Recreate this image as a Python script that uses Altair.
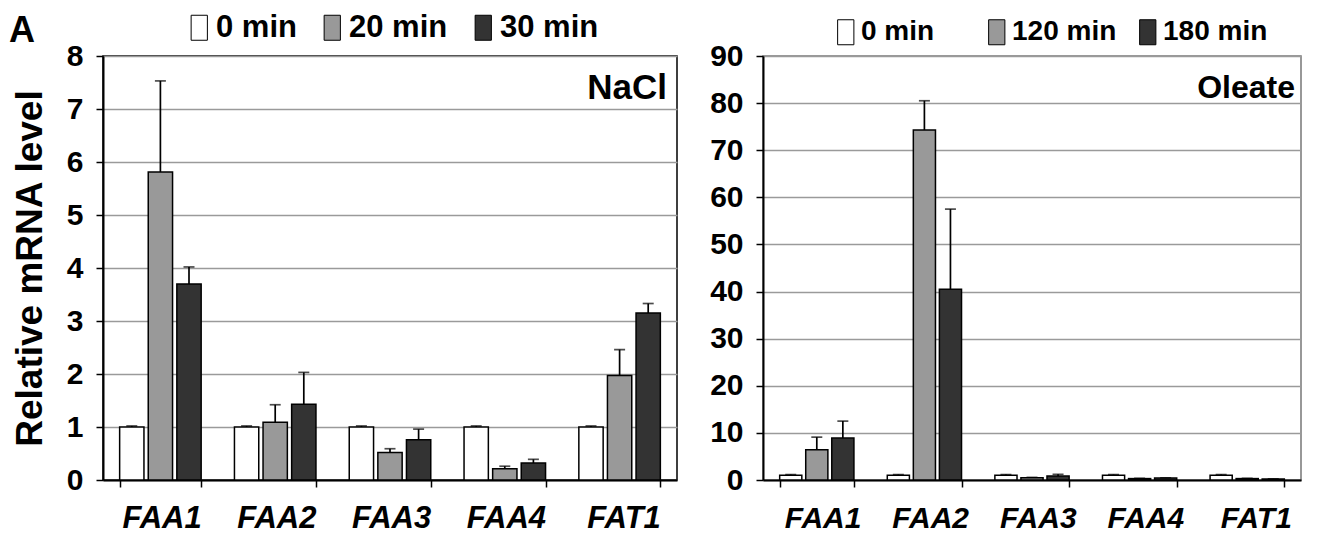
import altair as alt
import pandas as pd

genes = ["FAA1", "FAA2", "FAA3", "FAA4", "FAT1"]

# NaCl panel
nacl_times = ["0 min", "20 min", "30 min"]
nacl_0 = [1.0, 1.0, 1.0, 1.0, 1.0]
nacl_0_err = [0.02, 0.02, 0.02, 0.02, 0.02]
nacl_20 = [5.81, 1.09, 0.52, 0.21, 1.97]
nacl_20_err = [1.72, 0.33, 0.07, 0.05, 0.49]
nacl_30 = [3.70, 1.43, 0.76, 0.32, 3.15]
nacl_30_err = [0.32, 0.60, 0.20, 0.07, 0.18]

# Oleate panel
oleate_times = ["0 min", "120 min", "180 min"]
oleate_0 = [1.0, 1.0, 1.0, 1.0, 1.0]
oleate_0_err = [0.15, 0.15, 0.15, 0.15, 0.15]
oleate_120 = [6.4, 74.3, 0.5, 0.3, 0.3]
oleate_120_err = [2.7, 6.2, 0.05, 0.05, 0.05]
oleate_180 = [8.9, 40.5, 0.85, 0.4, 0.2]
oleate_180_err = [3.6, 17.0, 0.35, 0.05, 0.03]

FONT = "Liberation Sans, Arial, sans-serif"
FILLS = ["#ffffff", "#999999", "#333333"]
RECT = "M-0.35,-1L0.95,-1L0.95,1L-0.35,1Z"


def build(times, series, errs):
    rows = []
    for t, vals, es in zip(times, series, errs):
        for g, v, e in zip(genes, vals, es):
            rows.append({"gene": g, "time": t, "value": v, "top": v + e})
    return pd.DataFrame(rows)


def panel(df, times, ymax, ystep, label, width, pad_in, xlab_size, xlab_shift,
          leg, frame, show_title, label_size, label_right, extra=None):
    step = width / len(genes)
    bandwidth = step * (1 - pad_in)
    base = alt.Chart(df)
    xaxis = alt.Axis(
        title=None, labelAngle=0, labelFont=FONT, labelFontSize=xlab_size,
        labelFontStyle="italic", labelFontWeight="bold", labelColor="black",
        tickBand="extent", tickSize=7, tickColor="black", tickWidth=1.5,
        domainColor="black", domainWidth=2, labelPadding=31,
        labelOffset=bandwidth / 2 + xlab_shift,
    )
    x = alt.X("gene:N", sort=genes,
              scale=alt.Scale(paddingInner=pad_in, paddingOuter=pad_in / 2),
              axis=xaxis)
    xo = alt.XOffset("time:N", sort=times,
                     scale=alt.Scale(paddingInner=0.15, paddingOuter=0))
    yaxis = alt.Axis(
        values=list(range(0, ymax + 1, ystep)),
        title="Relative mRNA level" if show_title else None,
        titleFont=FONT, titleFontSize=37, titleFontWeight="bold", titleColor="black",
        titlePadding=17,
        labelFont=FONT, labelFontSize=30, labelFontWeight="bold", labelColor="black",
        labelPadding=13, tickSize=7, tickColor="black", tickWidth=1.5,
        domainColor="black", domainWidth=2,
        grid=True, gridColor="#9a9a9a", gridWidth=1.5,
    )
    y = alt.Y("value:Q", stack=None,
              scale=alt.Scale(domain=[0, ymax], nice=False), axis=yaxis)
    legend = alt.Legend(
        title=None, orient="none", legendX=leg["x"], legendY=leg["y"],
        direction="horizontal", symbolType=RECT, symbolSize=625,
        symbolStrokeColor="black", symbolStrokeWidth=1,
        labelFont=FONT, labelFontSize=leg["size"], labelFontWeight="bold",
        labelColor="black", labelOffset=5, columnPadding=leg["pad"],
        gridAlign=leg["align"],
    )
    bars = base.mark_bar(stroke="black", strokeWidth=1.5).encode(
        x=x, xOffset=xo, y=y,
        fill=alt.Fill("time:N", sort=times,
                      scale=alt.Scale(domain=times, range=FILLS), legend=legend),
    )
    rules = base.mark_rule(color="black", strokeWidth=1.7).encode(
        x=alt.X("gene:N", sort=genes), xOffset=alt.XOffset("time:N", sort=times),
        y="value:Q", y2="top:Q",
    )
    caps = base.mark_tick(color="black", size=11, thickness=1.7).encode(
        x=alt.X("gene:N", sort=genes), xOffset=alt.XOffset("time:N", sort=times),
        y="top:Q",
    )
    txt = alt.Chart(pd.DataFrame({"label": [label]})).mark_text(
        font=FONT, fontSize=label_size, fontWeight="bold", align="right",
        baseline="middle", color="black",
    ).encode(text="label:N", x=alt.value(width - label_right), y=alt.value(32))
    layers = [rules, caps, bars, txt]
    if extra is not None:
        layers.append(extra)
    return alt.layer(*layers).properties(
        width=width, height=424,
        view=alt.ViewBackground(stroke=frame, strokeWidth=1.5),
    )


nacl_df = build(nacl_times, [nacl_0, nacl_20, nacl_30],
                [nacl_0_err, nacl_20_err, nacl_30_err])
oleate_df = build(oleate_times, [oleate_0, oleate_120, oleate_180],
                  [oleate_0_err, oleate_120_err, oleate_180_err])

letter = alt.Chart(pd.DataFrame({"label": ["A"]})).mark_text(
    font=FONT, fontSize=36, fontWeight="bold", align="left",
    baseline="alphabetic", color="black",
).encode(text="label:N", x=alt.value(-94), y=alt.value(-14))

left = panel(nacl_df, nacl_times, 8, 1, "NaCl", 574, 0.29, 31, 0,
             {"x": 77, "y": -44, "size": 31, "pad": 16, "align": "each"},
             "black", True, 35, 10, letter)
right = panel(oleate_df, oleate_times, 90, 10, "Oleate", 538, 0.31, 30, 7,
              {"x": 65, "y": -38, "size": 28, "pad": 13, "align": "all"},
              "#777777", False, 32, 6)

chart = alt.hconcat(left, right, spacing=86, bounds="flush").resolve_scale(
    fill="independent", x="independent", y="independent", xOffset="independent"
).properties(padding={"left": 0, "top": 3, "right": 4, "bottom": 0})

chart.save("out.html", embed_options={"renderer": "svg", "actions": False})
